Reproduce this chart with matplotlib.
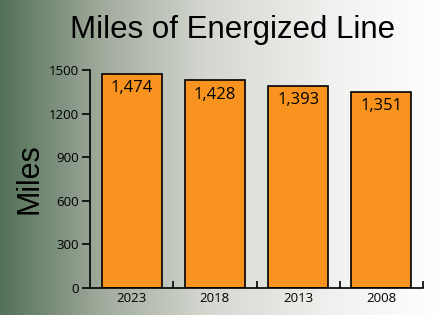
import matplotlib.pyplot as plt
import numpy as np

# data
years = ['2023', '2018', '2013', '2008']
miles = [1474, 1428, 1393, 1351]
yticks = [0, 300, 600, 900, 1200, 1500]

fig = plt.figure(figsize=(4.38, 3.15), dpi=100)

# background gradient, dark green on the left to white on the right
bg = fig.add_axes([0, 0, 1, 1])
stops = [0.0, 0.23, 0.47, 0.75, 1.0]
cols = np.array([[82, 112, 88], [160, 170, 155], [212, 215, 208],
                 [240, 240, 238], [255, 255, 255]]) / 255.0
xs = np.linspace(0, 1, 438)
grad = np.stack([np.interp(xs, stops, cols[:, i]) for i in range(3)], axis=-1)
bg.imshow(grad[np.newaxis, :, :], aspect='auto', extent=[0, 1, 0, 1])
bg.axis('off')

ax = fig.add_axes([90 / 438, 27 / 315, 333 / 438, 218 / 315])
ax.patch.set_alpha(0)

x = np.arange(len(years))
ax.bar(x, miles, width=0.72, color='#f7931e', edgecolor='black', linewidth=1.2)
for xi, v in zip(x, miles):
    ax.text(xi, v - 100, f'{v:,}', ha='center', va='center',
            fontsize=12, family='Open Sans')

ax.set_xlim(-0.5, len(years) - 0.5)
ax.set_ylim(0, 1500)
ax.set_yticks(yticks)
ax.set_yticklabels([str(t) for t in yticks], family='Open Sans', fontsize=9.5)
ax.set_xticks(x)
ax.set_xticklabels(years, family='Open Sans', fontsize=9.5)
ax.tick_params(axis='x', length=0, pad=3)
ax.set_xticks(np.arange(len(years)) + 0.5, minor=True)
ax.tick_params(axis='x', which='minor', direction='in', length=5, width=1.2)
ax.tick_params(axis='y', direction='out', length=6, width=1.2, pad=2)

for s in ['top', 'right']:
    ax.spines[s].set_visible(False)
for s in ['left', 'bottom']:
    ax.spines[s].set_linewidth(1.2)

ax.set_ylabel('Miles', family='Liberation Sans', fontsize=22, labelpad=3)
fig.text(0.532, 0.905, 'Miles of Energized Line', ha='center', va='center',
         family='Liberation Sans', fontsize=22.5)

fig.savefig('out.png', dpi=100)
